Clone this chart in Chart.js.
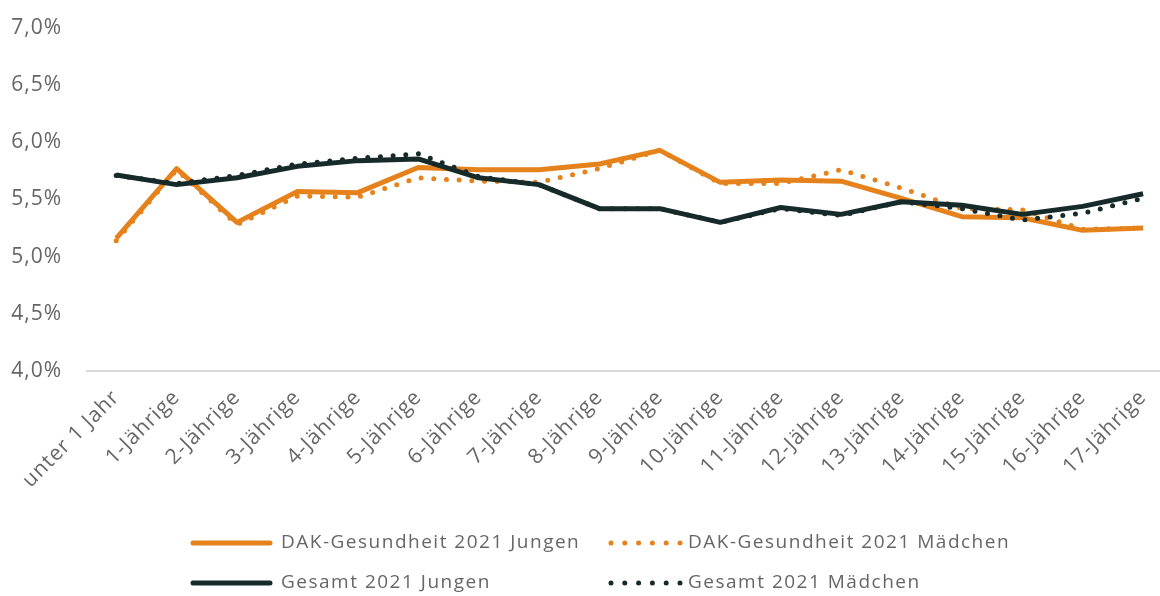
<!DOCTYPE html>
<html>
<head>
<meta charset="utf-8">
<script src="https://cdn.jsdelivr.net/npm/chart.js@4.4.1/dist/chart.umd.min.js"></script>
<style>
  html, body { margin: 0; padding: 0; background: #ffffff; }
  canvas { display: block; }
</style>
</head>
<body>
<canvas id="c" width="1160" height="596"></canvas>
<script>
const categories = ["unter 1 Jahr", "1-Jährige", "2-Jährige", "3-Jährige", "4-Jährige", "5-Jährige",
  "6-Jährige", "7-Jährige", "8-Jährige", "9-Jährige", "10-Jährige", "11-Jährige", "12-Jährige",
  "13-Jährige", "14-Jährige", "15-Jährige", "16-Jährige", "17-Jährige"];

const dakJungen   = [5.16, 5.77, 5.30, 5.57, 5.56, 5.78, 5.76, 5.76, 5.81, 5.93, 5.65, 5.67, 5.66, 5.51, 5.35, 5.34, 5.23, 5.25];
const dakMaedchen = [5.14, 5.76, 5.28, 5.53, 5.52, 5.69, 5.66, 5.65, 5.77, 5.93, 5.64, 5.64, 5.76, 5.60, 5.42, 5.41, 5.24, 5.25];
const gesJungen   = [5.715, 5.63, 5.69, 5.79, 5.84, 5.855, 5.69, 5.63, 5.42, 5.42, 5.30, 5.43, 5.37, 5.48, 5.45, 5.37, 5.44, 5.55];
const gesMaedchen = [5.71, 5.64, 5.71, 5.81, 5.86, 5.90, 5.70, 5.63, 5.42, 5.42, 5.30, 5.42, 5.36, 5.48, 5.42, 5.32, 5.38, 5.51];

const seriesNames = ["DAK-Gesundheit 2021 Jungen", "DAK-Gesundheit 2021 Mädchen", "Gesamt 2021 Jungen", "Gesamt 2021 Mädchen"];
const yTicks = [4.0, 4.5, 5.0, 5.5, 6.0, 6.5, 7.0];

const ORANGE = '#E5821B';
const DARK = '#172A2A';
const TEXT = '#666666';
const AXIS = '#d9d9d9';
const FONT = '"Open Sans"';
const SPACING = '1px';
const LEGEND_SPACING = '1.5px';

const toPts = arr => arr.map((v, i) => ({ x: i, y: v }));

const datasets = [
  { label: seriesNames[0], data: toPts(dakJungen), borderColor: ORANGE, borderWidth: 5, order: 2, dotted: false },
  { label: seriesNames[1], data: toPts(dakMaedchen), borderColor: ORANGE, borderWidth: 5, order: 3, dotted: true,
    borderDash: [0, 12.7], borderCapStyle: 'round' },
  { label: seriesNames[2], data: toPts(gesJungen), borderColor: DARK, borderWidth: 5, order: 0, dotted: false },
  { label: seriesNames[3], data: toPts(gesMaedchen), borderColor: DARK, borderWidth: 5, order: 1, dotted: true,
    borderDash: [0, 12.7], borderCapStyle: 'round' }
].map(d => Object.assign({ pointRadius: 0, fill: false, tension: 0, borderJoinStyle: 'round' }, d));

const spacingPlugin = {
  id: 'letterSpacing',
  beforeInit(chart) { chart.ctx.letterSpacing = SPACING; },
  beforeUpdate(chart) { chart.ctx.letterSpacing = SPACING; },
  beforeDraw(chart) { chart.ctx.letterSpacing = SPACING; }
};

const axisLinePlugin = {
  id: 'axisLine',
  beforeDatasetsDraw(chart) {
    const s = chart.scales.x;
    const y = chart.scales.y.getPixelForValue(yTicks[0]);
    const ctx = chart.ctx;
    ctx.save();
    ctx.strokeStyle = AXIS;
    ctx.lineWidth = 2;
    ctx.beginPath();
    ctx.moveTo(s.left, y);
    ctx.lineTo(s.right, y);
    ctx.stroke();
    ctx.restore();
  }
};

const legendPlugin = {
  id: 'customLegend',
  afterDraw(chart) {
    const ctx = chart.ctx;
    const cols = [190, 608];
    const rows = [543, 583];
    ctx.save();
    ctx.letterSpacing = LEGEND_SPACING;
    ctx.font = '19px ' + FONT;
    ctx.textBaseline = 'middle';
    ctx.textAlign = 'left';
    chart.data.datasets.forEach((ds, i) => {
      const x = cols[i % 2];
      const y = rows[Math.floor(i / 2)];
      ctx.strokeStyle = ds.borderColor;
      ctx.lineWidth = 5;
      ctx.lineCap = 'round';
      ctx.beginPath();
      if (ds.dotted) {
        ctx.setLineDash([0, 13.8]);
        ctx.moveTo(x + 3, y);
        ctx.lineTo(x + 73, y);
      } else {
        ctx.setLineDash([]);
        ctx.moveTo(x + 3, y);
        ctx.lineTo(x + 80, y);
      }
      ctx.stroke();
      ctx.setLineDash([]);
      ctx.fillStyle = TEXT;
      ctx.fillText(ds.label, x + (ds.dotted ? 80 : 91), y);
    });
    ctx.restore();
  }
};

new Chart(document.getElementById('c'), {
  type: 'line',
  data: { datasets },
  options: {
    responsive: false,
    animation: false,
    devicePixelRatio: 1,
    layout: { padding: { top: 28, right: 0, left: 0, bottom: 95 } },
    plugins: { legend: { display: false }, tooltip: { enabled: false } },
    scales: {
      x: {
        type: 'linear',
        min: -0.5,
        max: 17.28,
        afterBuildTicks: s => { s.ticks = categories.map((_, i) => ({ value: i })); },
        afterFit: s => { s.height = 130; s.paddingLeft = 0; s.paddingRight = 0; s.paddingTop = 0; s.paddingBottom = 0; },
        grid: { display: false, drawTicks: false },
        border: { display: false },
        ticks: {
          autoSkip: false, minRotation: 45, maxRotation: 45, padding: 14,
          color: TEXT, font: { family: FONT, size: 21 },
          callback: v => categories[v]
        }
      },
      y: {
        min: 4, max: 7,
        afterBuildTicks: s => { s.ticks = yTicks.map(v => ({ value: v })); },
        afterFit: s => { s.width = 86; s.paddingTop = 0; s.paddingBottom = 0; s.paddingLeft = 0; s.paddingRight = 0; },
        grid: { display: false, drawTicks: false },
        border: { display: false },
        ticks: {
          padding: 24, color: TEXT, font: { family: FONT, size: 21 },
          callback: v => v.toFixed(1).replace('.', ',') + '%'
        }
      }
    }
  },
  plugins: [spacingPlugin, axisLinePlugin, legendPlugin]
});
</script>
</body>
</html>
